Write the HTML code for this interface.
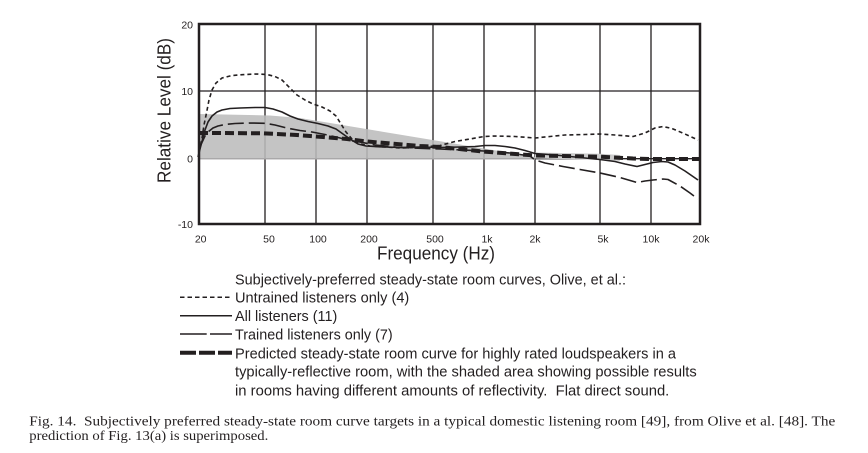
<!DOCTYPE html>
<html>
<head>
<meta charset="utf-8">
<style>
  html, body { margin: 0; padding: 0; background: #ffffff; }
  svg { display: block; }
  .t { font-family: "Liberation Sans", Arial, sans-serif; fill: #231f20; }
  .c { font-family: "Liberation Serif", "Times New Roman", serif; fill: #231f20; }
</style>
</head>
<body>
<svg width="868" height="453" viewBox="0 0 868 453" xmlns="http://www.w3.org/2000/svg">
  <rect x="0" y="0" width="868" height="453" fill="#ffffff"/>

  <!-- grid lines -->
  <g stroke="#231f20" stroke-width="1.3">
    <line x1="265" y1="24" x2="265" y2="224"/>
    <line x1="316" y1="24" x2="316" y2="224"/>
    <line x1="367" y1="24" x2="367" y2="224"/>
    <line x1="433" y1="24" x2="433" y2="224"/>
    <line x1="484" y1="24" x2="484" y2="224"/>
    <line x1="535" y1="24" x2="535" y2="224"/>
    <line x1="600" y1="24" x2="600" y2="224"/>
    <line x1="651" y1="24" x2="651" y2="224"/>
    <line x1="199" y1="91" x2="700" y2="91"/>
    <line x1="199" y1="158.7" x2="700" y2="158.7"/>
  </g>

  <!-- shaded area -->
  <polygon points="199,114 270,115.5 300,118 535,157 535,159.5 199,159.5" fill="#bcbcbc" fill-opacity="0.88"/>
  <polyline points="535,155.5 600,156.7 620,158" fill="none" stroke="#cccccc" stroke-width="6"/>

  <!-- Predicted (thick dash) -->
  <polyline fill="none" stroke="#231f20" stroke-width="4" stroke-dasharray="9 4"
    points="199,133 220,133 263,133.3 297,135 323,137 347,139 367,141.5 420,146 440,147 483,151.5 535,155.5 600,156.7 633,158.5 650,159 700,159"/>

  <!-- Untrained (dotted) -->
  <polyline fill="none" stroke="#231f20" stroke-width="1.6" stroke-dasharray="4 3" stroke-linejoin="round"
    points="199,152 201.7,140 204,125 206.7,112 209,100 212,90 216,83 222,78 232,75.5 245,74.5 257,74 267,74.5 275,76.5 282,80 290,88 297,95 305,100 313,104 322,107 330,111 336,116 341,124 346,132 352,139 360,144 370,146 385,147 400,148 420,147.3 440,145.5 455,141.5 470,139 484,136.5 495,136 515,136.5 535,138 550,136.5 565,135 585,134.5 600,134 615,135 633,136.5 645,133 655,128 663,126.5 672,128.5 685,134 698,140"/>

  <!-- All listeners (solid) -->
  <polyline fill="none" stroke="#231f20" stroke-width="1.6" stroke-linejoin="round"
    points="198,157 201,145 205,130 208,122 212,116 217,112 222,110 230,108.5 240,108 255,107.5 265,107.5 273,109 282,112 290,116 298,119 308,121.5 318,123.5 328,126 336,129 343,134 350,139 358,144 366,146 380,146.8 400,147.5 420,147 440,147.5 460,147 475,146.5 485,145.5 495,145.5 505,146.5 515,148 525,150.5 535,153.5 555,155 575,157 600,159.5 615,161.5 625,164 637,166.5 645,164.5 653,162.5 662,161.5 668,162 675,165 685,171 698,180"/>

  <!-- Trained (long dash) -->
  <polyline fill="none" stroke="#231f20" stroke-width="1.6" stroke-dasharray="16 5" stroke-linejoin="round"
    points="199,150 201.7,143 205,136 208,132 213,128 218,126 225,124.5 235,123.5 250,123 265,123.3 275,125 288,128.3 300,130.5 312,132 325,134.5 338,137.5 350,140.5 360,142 375,145 400,147.5 440,149 484,151 510,153 530,156 535,160 545,163 563,166.5 580,169.5 600,173 620,177.5 637,182.5 645,181 653,180 663,179 668,179.5 680,186 690,193 698,199"/>

  <!-- frame -->
  <rect x="199" y="24" width="501" height="200" fill="none" stroke="#231f20" stroke-width="2.5"/>

  <!-- y tick labels -->
  <g class="t" font-size="10.5" text-anchor="end">
    <text x="193" y="28.5">20</text>
    <text x="193" y="95">10</text>
    <text x="193" y="162.5">0</text>
    <text x="193" y="228">-10</text>
  </g>
  <!-- x tick labels -->
  <g class="t" font-size="10.5" text-anchor="middle">
    <text x="200.7" y="242.5">20</text>
    <text x="269" y="242.5">50</text>
    <text x="318" y="242.5">100</text>
    <text x="369" y="242.5">200</text>
    <text x="435" y="242.5">500</text>
    <text x="487" y="242.5">1k</text>
    <text x="535" y="242.5">2k</text>
    <text x="603" y="242.5">5k</text>
    <text x="651" y="242.5">10k</text>
    <text x="701" y="242.5">20k</text>
  </g>

  <!-- axis titles -->
  <text class="t" x="377" y="259.5" font-size="18" textLength="118" lengthAdjust="spacingAndGlyphs">Frequency (Hz)</text>
  <text class="t" transform="translate(170.5,183) rotate(-90)" x="0" y="0" font-size="18" textLength="145" lengthAdjust="spacingAndGlyphs">Relative Level (dB)</text>

  <!-- legend samples -->
  <line x1="180" y1="297.3" x2="232" y2="297.3" stroke="#231f20" stroke-width="1.5" stroke-dasharray="4.5 3"/>
  <line x1="180" y1="315.7" x2="232" y2="315.7" stroke="#231f20" stroke-width="1.5"/>
  <line x1="180" y1="334" x2="206.7" y2="334" stroke="#231f20" stroke-width="1.5"/>
  <line x1="210" y1="334" x2="232" y2="334" stroke="#231f20" stroke-width="1.5"/>
  <line x1="180" y1="352.7" x2="232" y2="352.7" stroke="#231f20" stroke-width="4" stroke-dasharray="16 3"/>

  <!-- legend text -->
  <g class="t" font-size="14.5">
    <text xml:space="preserve" x="235" y="284.3" textLength="391" lengthAdjust="spacingAndGlyphs">Subjectively-preferred steady-state room curves, Olive, et al.:</text>
    <text xml:space="preserve" x="235" y="302.7" textLength="174.3" lengthAdjust="spacingAndGlyphs">Untrained listeners only (4)</text>
    <text xml:space="preserve" x="235" y="321" textLength="102.3" lengthAdjust="spacingAndGlyphs">All listeners (11)</text>
    <text xml:space="preserve" x="235" y="339.3" textLength="157.7" lengthAdjust="spacingAndGlyphs">Trained listeners only (7)</text>
    <text xml:space="preserve" x="235" y="358.3" textLength="441" lengthAdjust="spacingAndGlyphs">Predicted steady-state room curve for highly rated loudspeakers in a</text>
    <text xml:space="preserve" x="235" y="376.7" textLength="461.7" lengthAdjust="spacingAndGlyphs">typically-reflective room, with the shaded area showing possible results</text>
    <text xml:space="preserve" x="235" y="395.5" textLength="434.3" lengthAdjust="spacingAndGlyphs">in rooms having different amounts of reflectivity.  Flat direct sound.</text>
  </g>

  <!-- caption -->
  <g class="c" font-size="14">
    <text xml:space="preserve" x="29.3" y="425.5" textLength="806" lengthAdjust="spacingAndGlyphs">Fig. 14.  Subjectively preferred steady-state room curve targets in a typical domestic listening room [49], from Olive et al. [48]. The</text>
    <text xml:space="preserve" x="29.3" y="440" textLength="239" lengthAdjust="spacingAndGlyphs">prediction of Fig. 13(a) is superimposed.</text>
  </g>
</svg>
</body>
</html>
